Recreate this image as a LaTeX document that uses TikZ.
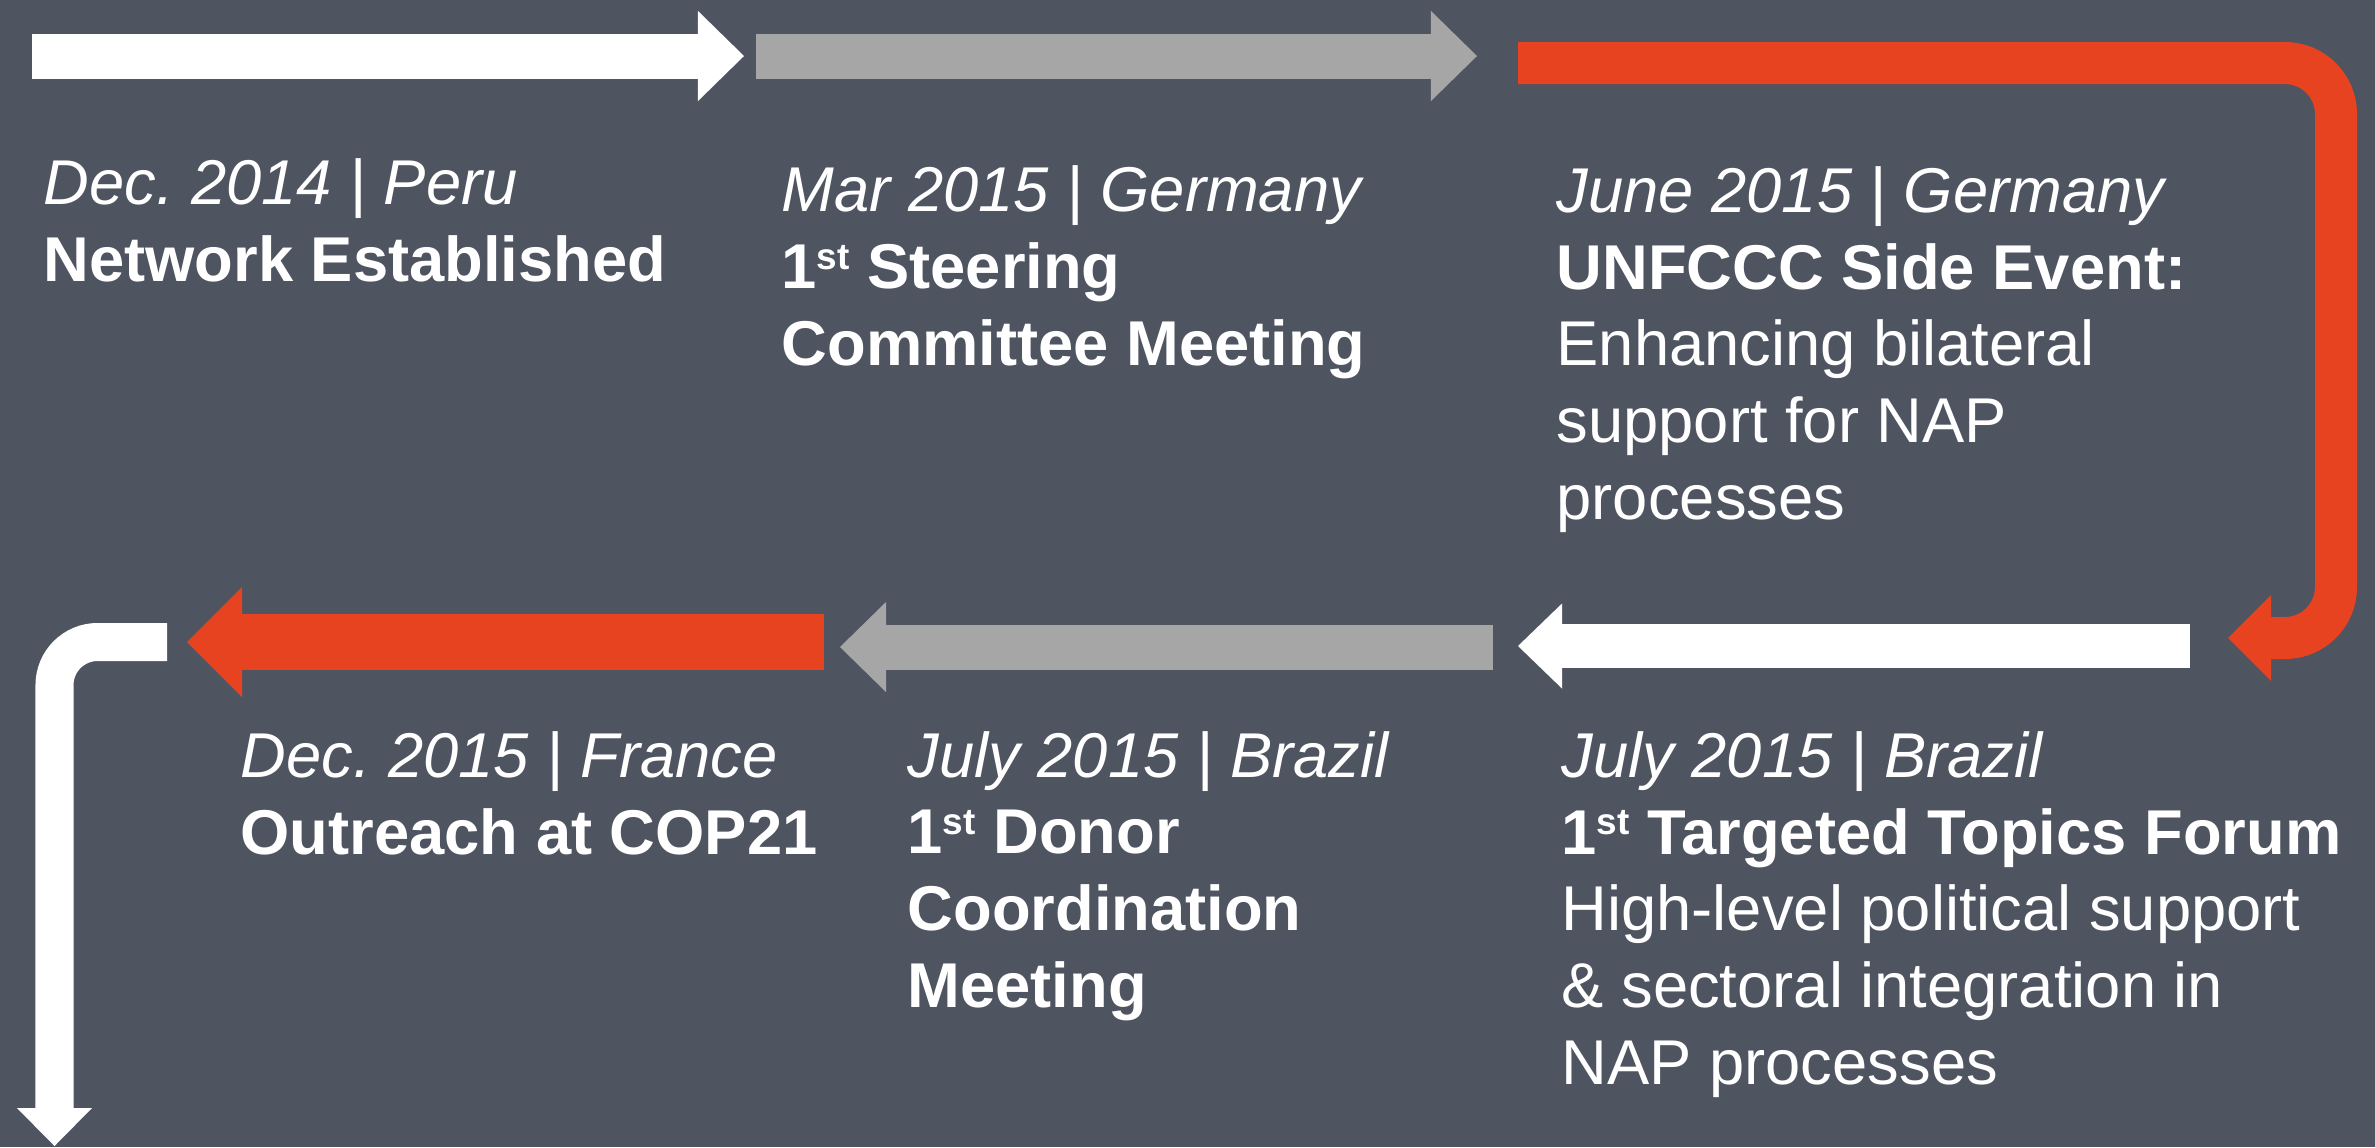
\documentclass[tikz,border=0pt]{standalone}
\usepackage{fontspec}
\setmainfont{Liberation Sans}
\usetikzlibrary{arrows.meta}
\definecolor{slate}{RGB}{79,84,97}
\definecolor{tlred}{RGB}{232,67,32}
\definecolor{tlgray}{RGB}{166,166,166}
\newcommand{\supst}{\raisebox{5.5pt}{\fontsize{10.5}{11}\selectfont st}}
\frenchspacing
\begin{document}
\begin{tikzpicture}[x=0.01cm, y=-0.01cm, line cap=butt,
event node/.style={anchor=base west,inner sep=0pt,align=left,text=white,font=\fontsize{18}{21.8}\selectfont},
bar/.style={line width=4.5mm,-{Triangle[length=4.6mm,width=9mm,line width=0pt]}}]
\useasboundingbox (0,0) rectangle (2375,1147);
\fill[slate] (0,0) rectangle (2375,1147);
% base anchor sits on the last line
\begin{scope}[every node/.style={event node}]
\node (e1) at (43,281) {\textit{Dec. 2014 | Peru}\\\textbf{Network Established}};
\node (e2) at (781,365) {\textit{Mar 2015 | Germany}\\\textbf{1\supst\ Steering}\\\textbf{Committee Meeting}};
\node (e3) at (1556,519) {\textit{June 2015 | Germany}\\\textbf{UNFCCC Side Event:}\\Enhancing bilateral\\support for NAP\\processes};
\node (e4) at (240,854) {\textit{Dec. 2015 | France}\\\textbf{Outreach at COP21}};
\node (e5) at (907,1007) {\textit{July 2015 | Brazil}\\\textbf{1\supst\ Donor}\\\textbf{Coordination}\\\textbf{Meeting}};
\node (e6) at (1561,1084) {\textit{July 2015 | Brazil}\\\textbf{1\supst\ Targeted Topics Forum}\\High-level political support\\\& sectoral integration in\\NAP processes};
\end{scope}
% top row
\coordinate (p1) at (32,56);
\coordinate (p2) at (744,56);
\coordinate (p3) at (756,56);
\coordinate (p4) at (1477,56);
\coordinate (p5) at (1518,63);
\coordinate (p6) at (2336,63);
\coordinate (p7) at (2336,638);
\coordinate (p8) at (2228,638);
% bottom row
\coordinate (q1) at (2190,646);
\coordinate (q2) at (1518,646);
\coordinate (q3) at (1493,647);
\coordinate (q4) at (840,647);
\coordinate (q5) at (824,642);
\coordinate (q6) at (187,642);
\coordinate (q7) at (167,642);
\coordinate (q8) at (54.5,642);
\coordinate (q9) at (54.5,1146);
\draw [bar,white] (p1) -- (p2);
\draw [bar,tlgray] (p3) -- (p4);
\draw [bar,tlred,line width=4.2mm,-{Triangle[length=4.3mm,width=8.6mm,line width=0pt]},rounded corners=5.1mm] (p5) -- (p6) -- (p7) -- (p8);
\draw [bar,white,line width=4.4mm,-{Triangle[length=4.4mm,width=8.5mm,line width=0pt]}] (q1) -- (q2);
\draw [bar,tlgray] (q3) -- (q4);
\draw [bar,tlred,line width=5.6mm,-{Triangle[length=5.5mm,width=11mm,line width=0pt]}] (q5) -- (q6);
\draw [bar,white,line width=3.8mm,-{Triangle[length=3.8mm,width=7.5mm,line width=0pt]},rounded corners=4.3mm] (q7) -- (q8) -- (q9);
\end{tikzpicture}
\end{document}
